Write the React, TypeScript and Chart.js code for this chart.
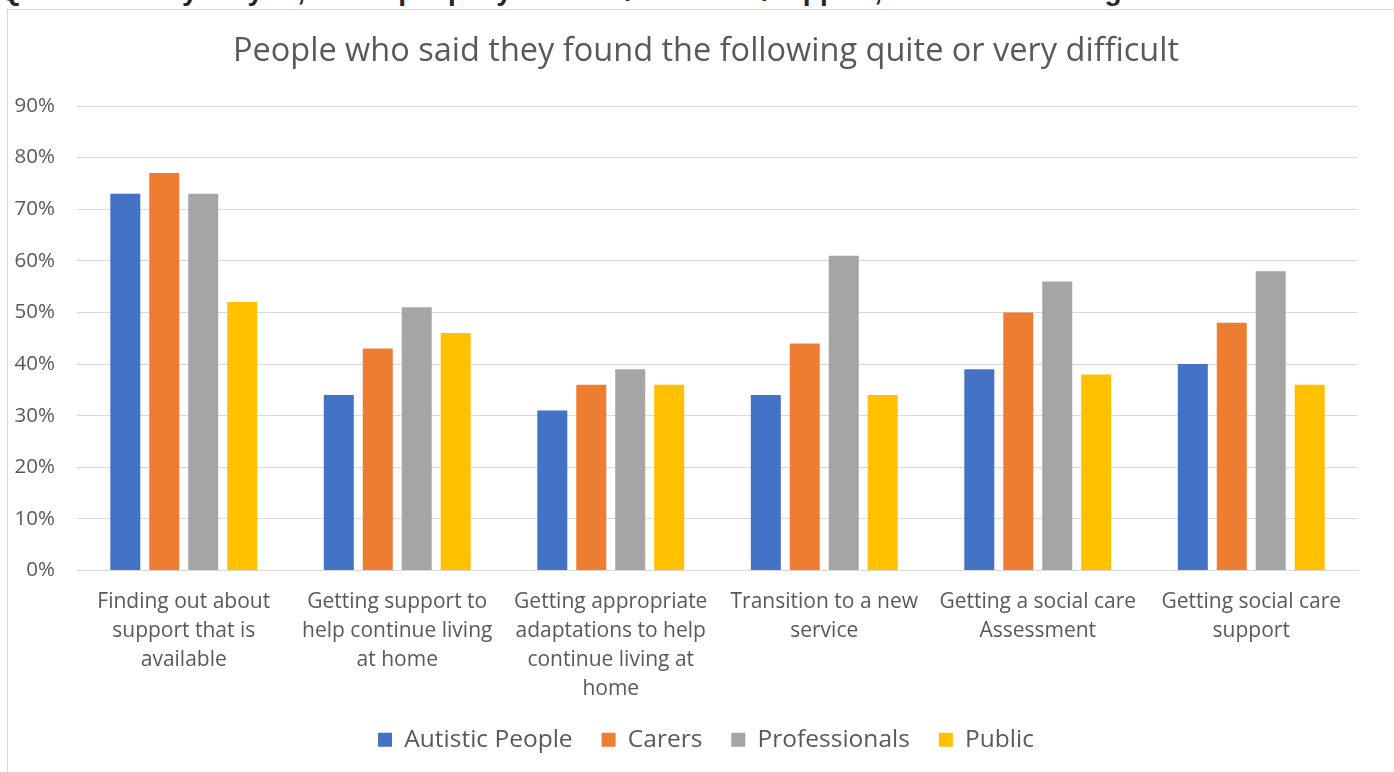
import React, { useEffect, useRef } from "react";
import { Chart, registerables } from "chart.js";
Chart.register(...registerables);

const headerText = "Q4.6 How easy do you, or the people you know/work with/support, find the following:";
const titleText = "People who said they found the following quite or very difficult";

const categories: string[][] = [
  ["Finding out about", "support that is", "available"],
  ["Getting support to", "help continue living", "at home"],
  ["Getting appropriate", "adaptations to help", "continue living at", "home"],
  ["Transition to a new", "service"],
  ["Getting a social care", "Assessment"],
  ["Getting social care", "support"],
];

const seriesNames = ["Autistic People", "Carers", "Professionals", "Public"];
const autisticPeople = [73, 34, 31, 34, 39, 40];
const carers = [77, 43, 36, 44, 50, 48];
const professionals = [73, 51, 39, 61, 56, 58];
const publicValues = [52, 46, 36, 34, 38, 36];
const seriesColors = ["#4472C4", "#ED7D31", "#A5A5A5", "#FFC000"];

const yMax = 90;
const yStep = 10;

const FONT = "'Open Sans', 'Noto Sans', sans-serif";
const TEXT = "#595959";
const GRID = "#d9d9d9";

export default function App() {
  const ref = useRef<HTMLCanvasElement>(null);
  useEffect(() => {
    const values = [autisticPeople, carers, professionals, publicValues];
    const chart = new Chart(ref.current!, {
      type: "bar",
      data: {
        labels: categories,
        datasets: seriesNames.map((name, i) => ({
          label: name,
          data: values[i],
          backgroundColor: seriesColors[i],
          borderWidth: 0,
          categoryPercentage: 0.73,
          barPercentage: 0.77,
        })),
      },
      options: {
        animation: false,
        responsive: false,
        maintainAspectRatio: false,
        layout: { padding: { left: 0, right: 0, top: 0, bottom: 38 } },
        plugins: {
          title: {
            display: true,
            text: titleText,
            color: TEXT,
            font: { family: FONT, size: 32.5, weight: "normal", lineHeight: 1.2 },
            padding: { top: 32.5, bottom: 34.5 },
          },
          legend: {
            position: "bottom",
            labels: {
              boxWidth: 14,
              boxHeight: 14,
              padding: 29,
              color: TEXT,
              font: { family: FONT, size: 24.5 },
            },
          },
          tooltip: { enabled: false },
        },
        scales: {
          x: {
            grid: { display: false, drawTicks: false },
            border: { display: true, color: GRID },
            ticks: {
              color: TEXT,
              font: { family: FONT, size: 21, lineHeight: 1.38 },
              padding: 17,
              maxRotation: 0,
              autoSkip: false,
            },
            afterFit: (s: any) => {
              s.height = 128;
            },
          },
          y: {
            min: 0,
            max: yMax,
            ticks: {
              stepSize: yStep,
              color: TEXT,
              font: { family: FONT, size: 20.5 },
              padding: 22,
              callback: (v: any) => v + "%",
            },
            grid: { color: GRID, drawTicks: false },
            border: { display: false },
            afterFit: (s: any) => {
              s.width = 70;
            },
          },
          ySpacer: {
            position: "right",
            min: 0,
            max: yMax,
            ticks: { display: false },
            grid: { display: false, drawTicks: false },
            border: { display: false },
            afterFit: (s: any) => {
              s.width = 47;
            },
          },
        },
      },
    } as any);
    return () => chart.destroy();
  }, []);

  return (
    <div
      style={{
        position: "fixed",
        left: 0,
        top: 0,
        width: 1394,
        height: 772,
        overflow: "hidden",
        background: "#fff",
      }}
    >
      <div
        style={{
          position: "absolute",
          left: 0,
          top: -25,
          whiteSpace: "nowrap",
          fontFamily: "'Liberation Sans', Arial, sans-serif",
          fontWeight: "bold",
          fontSize: 28,
          color: "#262626",
        }}
      >
        {headerText}
      </div>
      <div
        style={{
          position: "absolute",
          left: 7,
          top: 9,
          width: 1420,
          height: 820,
          border: "1px solid #d9d9d9",
          boxSizing: "border-box",
        }}
      />
      <canvas
        ref={ref}
        width={1398}
        height={800}
        style={{ position: "absolute", left: 7, top: 0, width: 1398, height: 800 }}
      />
    </div>
  );
}
